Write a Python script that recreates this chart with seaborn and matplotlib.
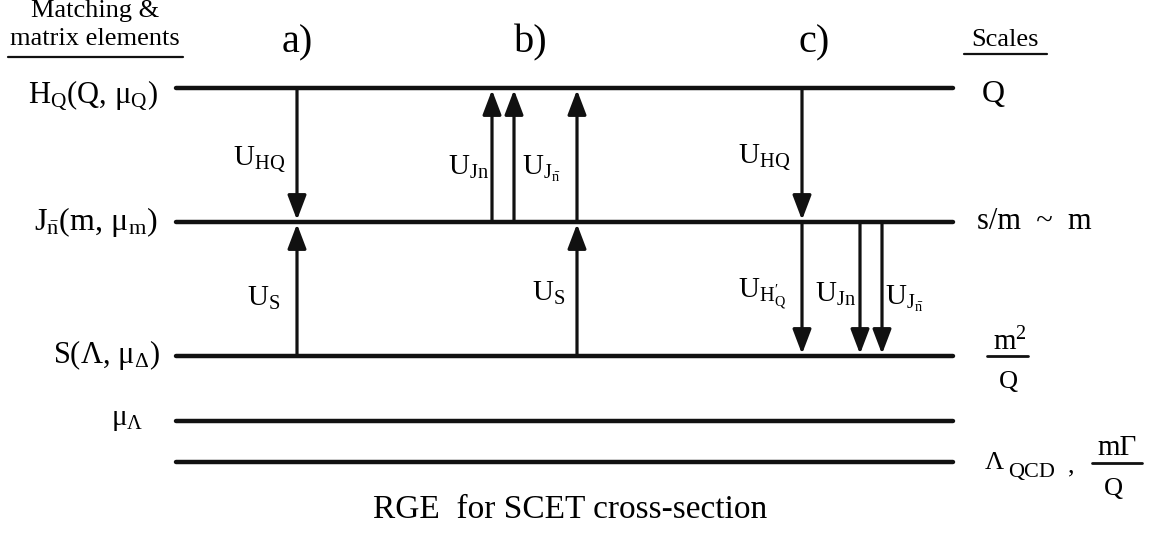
import pandas as pd
import matplotlib.pyplot as plt
import seaborn as sns

# Scale levels of the RGE diagram (vertical position, in picture units)
level_names = ['H', 'J', 'S', 'muL', 'QCD']
level_y = [88, 222, 356, 421, 462]
level_x0, level_x1 = 176, 953

# Evolution arrows: x position, from level, to level
arrow_x = [297, 297, 492, 514, 577, 577, 802, 802, 860, 882]
arrow_from = ['H', 'S', 'J', 'J', 'S', 'J', 'H', 'J', 'J', 'J']
arrow_to = ['J', 'J', 'H', 'H', 'J', 'H', 'J', 'S', 'S', 'S']

# Evolution-factor labels (x, baseline y, text)
u_x = [233, 247, 448, 522, 532, 738, 738, 815, 885]
u_y = [165, 306, 175, 175, 301, 163, 297, 302, 305]
u_text = [r'$\mathrm{U_{HQ}}$', r'$\mathrm{U_S}$', r'$\mathrm{U_{Jn}}$',
          r'$\mathrm{U_{J_{\bar{n}}}}$', r'$\mathrm{U_S}$', r'$\mathrm{U_{HQ}}$',
          r'$\mathrm{U_{H^{\prime}_{Q}}}$', r'$\mathrm{U_{Jn}}$',
          r'$\mathrm{U_{J_{\bar{n}}}}$']

# Left-hand matrix elements (right edge x, baseline y, text, size)
left_x = [158, 158, 160, 143]
left_y = [102, 230, 363, 425]
left_text = [r'$\mathrm{H_Q(Q,\,\mu_Q)}$', r'$\mathrm{J_{\bar{n}}(m,\,\mu_m)}$',
             r'$\mathrm{S(\Lambda,\,\mu_\Delta)}$', r'$\mathrm{\mu_\Lambda}$']
left_size = [22, 23, 22, 21]

panel_labels = ['a)', 'b)', 'c)']
panel_x = [297, 531, 814]

sns.set_theme(style='white')
plt.rcParams['font.family'] = ['Liberation Serif', 'DejaVu Serif']
plt.rcParams['text.color'] = 'black'
plt.rcParams['mathtext.fontset'] = 'custom'
plt.rcParams['mathtext.rm'] = 'Liberation Serif'
plt.rcParams['mathtext.it'] = 'Liberation Serif:italic'
plt.rcParams['mathtext.bf'] = 'Liberation Serif:bold'

ink = '#111111'

fig = plt.figure(figsize=(11.51, 5.33), dpi=100)
ax = fig.add_axes([0, 0, 1, 1])

# horizontal scale lines
lv = pd.DataFrame({
    'x': [level_x0, level_x1] * len(level_y),
    'y': [y for y in level_y for _ in range(2)],
    'level': [n for n in level_names for _ in range(2)],
})
sns.lineplot(data=lv, x='x', y='y', units='level', estimator=None,
             color=ink, lw=3.2, ax=ax, legend=False)

ypos = dict(zip(level_names, level_y))
for x, a, b in zip(arrow_x, arrow_from, arrow_to):
    y0, y1 = ypos[a], ypos[b]
    off = 2 if y1 > y0 else -2
    ax.annotate('', xy=(x, y1 - off), xytext=(x, y0),
                arrowprops=dict(arrowstyle='-|>,head_length=0.5,head_width=0.19',
                                mutation_scale=30, lw=2.3, color=ink,
                                shrinkA=0, shrinkB=0))

for x, y, t in zip(u_x, u_y, u_text):
    ax.text(x, y, t, fontsize=21, ha='left', va='baseline', color='black')

for x, y, t, s in zip(left_x, left_y, left_text, left_size):
    ax.text(x, y, t, fontsize=s, ha='right', va='baseline', color='black')

for x, t in zip(panel_x, panel_labels):
    ax.text(x, 52, t, fontsize=29, ha='center', va='baseline', color='black')

# column headers
ax.text(95, 17, 'Matching &', fontsize=19, ha='center', va='baseline')
ax.text(95, 45, 'matrix elements', fontsize=19, ha='center', va='baseline')
ax.plot([8, 183], [57, 57], color=ink, lw=1.6)
ax.text(1005, 46, 'Scales', fontsize=19, ha='center', va='baseline')
ax.plot([964, 1047], [54, 54], color=ink, lw=1.6)

# right-hand scales
ax.text(982, 102, 'Q', fontsize=23, ha='left', va='baseline')
ax.text(977, 229, 's/m  ~  m', fontsize=22, ha='left', va='baseline')
ax.text(1010, 350, r'$\mathrm{m^2}$', fontsize=21, ha='center', va='baseline')
ax.plot([987, 1028], [356, 356], color=ink, lw=2)
ax.text(1008, 388, 'Q', fontsize=19, ha='center', va='baseline')
ax.text(985, 469, 'Λ', fontsize=19, ha='left', va='baseline')
ax.text(1008, 477, 'QCD', fontsize=16, ha='left', va='baseline')
ax.text(1068, 472, ',', fontsize=19, ha='left', va='baseline')
ax.text(1117, 455, 'mΓ', fontsize=21, ha='center', va='baseline')
ax.plot([1092, 1142], [463, 463], color=ink, lw=2)
ax.text(1113, 495, 'Q', fontsize=19, ha='center', va='baseline')

ax.text(570, 518, 'RGE  for SCET cross-section', fontsize=24, ha='center', va='baseline')

ax.set_xlim(0, 1151)
ax.set_ylim(533, 0)
ax.axis('off')

fig.savefig('out.png', dpi=100)
